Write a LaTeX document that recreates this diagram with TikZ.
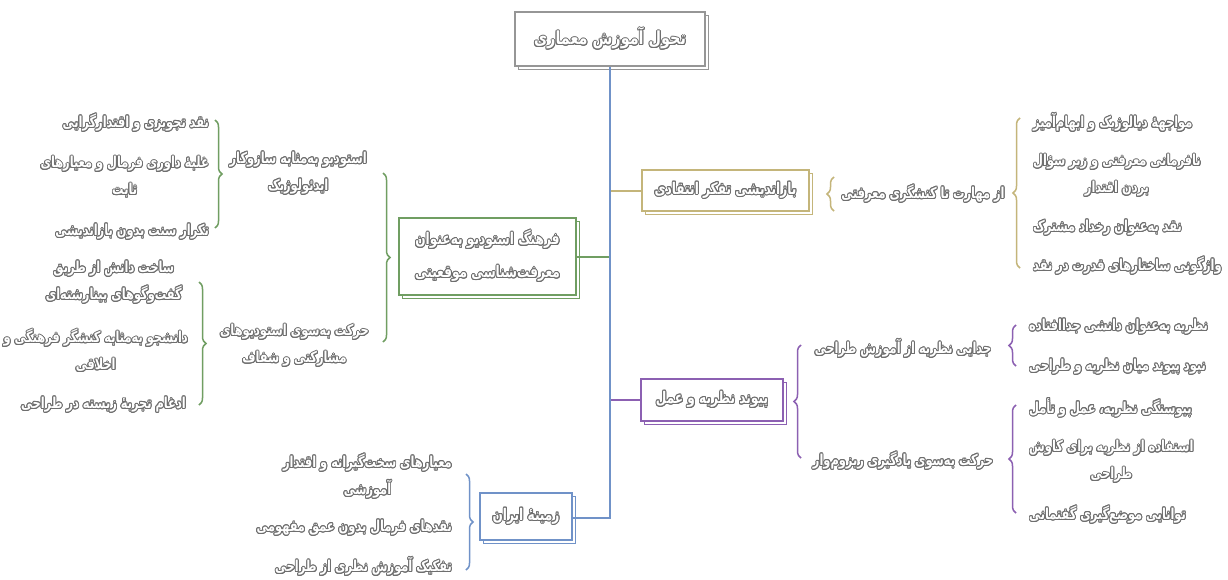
\documentclass[tikz,border=0pt]{standalone}
\usepackage{fontspec}
\usepackage{contour}
\usetikzlibrary{decorations.pathreplacing,shadows}
\TeXXeTstate=1
\newfontfamily\fa[Script=Arabic,FakeStretch=0.76]{DejaVu Sans}
\newfontfamily\faroot[Script=Arabic,FakeStretch=0.8]{DejaVu Sans}
\definecolor{tblue}{RGB}{112,146,200}
\definecolor{tkhaki}{RGB}{196,181,122}
\definecolor{tpurple}{RGB}{140,96,178}
\definecolor{tgreen}{RGB}{112,158,98}
\definecolor{tgray}{RGB}{150,150,150}
\definecolor{txt}{RGB}{110,110,110}
\contourlength{0.95pt}
\newcommand\fx[1]{\contour{txt}{\beginR #1\endR}}
\tikzset{
  lbl/.style={font=\fa\bfseries\fontsize{15}{27}\selectfont, text=white, inner sep=1pt, align=center},
  boxn/.style={lbl, font=\fa\bfseries\fontsize{16}{33}\selectfont, draw=#1, line width=1.6pt, fill=white,
     copy shadow={shadow xshift=3.5pt, shadow yshift=-3.5pt}},
  brc/.style={draw=#1, line width=1.5pt, decorate, decoration={brace, amplitude=7pt}},
  link/.style={draw=#1, line width=1.5pt},
}
\begin{document}
\begin{tikzpicture}[x=1pt,y=-1pt]
\useasboundingbox[fill=white] (0,0) rectangle (1228,579);

% boxes
\node[boxn=tgray, minimum width=190pt, minimum height=54pt, font=\faroot\bfseries\fontsize{18}{20}\selectfont] (root) at (610,39) {\fx{تحول آموزش معماری}};
\node[boxn=tkhaki, minimum width=167pt, minimum height=41pt] (b1) at (725.5,190.5) {\fx{بازاندیشی تفکر انتقادی}};
\node[boxn=tpurple, minimum width=142pt, minimum height=42pt] (b2) at (712,400) {\fx{پیوند نظریه و عمل}};
\node[boxn=tgreen, minimum width=177pt, minimum height=77pt] (b3) at (487.5,256.5) {\fx{فرهنگ استودیو به‌عنوان}\\\fx{معرفت‌شناسی موقعیتی}};
\node[boxn=tblue, minimum width=92pt, minimum height=47pt] (b4) at (526,516.5) {\fx{زمینهٔ ایران}};

% trunk and branches
\coordinate (t1) at (610,191);
\coordinate (t2) at (610,400);
\coordinate (t3) at (610,257);
\coordinate (t4) at (610,518);
\draw[link=tkhaki] (t1) -- (t1 -| b1.west);
\draw[link=tpurple] (t2) -- (t2 -| b2.west);
\draw[link=tgreen] (t3) -- (t3 -| b3.east);
\draw[link=tblue] (root.south) -- (t4) -- (t4 -| b4.east);

% braces
\draw[brc=tkhaki] (834,211) -- (834,177);
\draw[brc=tkhaki] (1020,268) -- (1020,118);
\draw[brc=tpurple] (801,458) -- (801,345);
\draw[brc=tpurple] (1016,366) -- (1016,325);
\draw[brc=tpurple] (1016,513) -- (1016,405);
\draw[brc=tgreen] (383,173) -- (383,342);
\draw[brc=tgreen] (215,120) -- (215,228);
\draw[brc=tgreen] (199,282) -- (199,405);
\draw[brc=tblue] (466,474) -- (466,570);

% khaki branch
\node[lbl] (k1) at (923,194) {\fx{از مهارت تا کنشگری معرفتی}};
\node[lbl, anchor=west] (k11) at (1032,123) {\fx{مواجههٔ دیالوژیک و ابهام‌آمیز}};
\node[lbl, anchor=west] (k12) at (1032,176) {\fx{نافرمانی معرفتی و زیر سؤال}\\\fx{بردن اقتدار}};
\node[lbl, anchor=west] (k13) at (1032,228) {\fx{نقد به‌عنوان رخداد مشترک}};
\node[lbl, anchor=west] (k14) at (1032,266) {\fx{واژگونی ساختارهای قدرت در نقد}};

% purple branch
\node[lbl] (p1) at (903,349) {\fx{جدایی نظریه از آموزش طراحی}};
\node[lbl] (p2) at (903,461) {\fx{حرکت به‌سوی یادگیری ریزوم‌وار}};
\node[lbl, anchor=west] (p11) at (1028,327) {\fx{نظریه به‌عنوان دانشی جداافتاده}};
\node[lbl, anchor=west] (p12) at (1028,367) {\fx{نبود پیوند میان نظریه و طراحی}};
\node[lbl, anchor=west] (p21) at (1028,408) {\fx{پیوستگی نظریه، عمل و تأمل}};
\node[lbl, anchor=west] (p22) at (1028,462) {\fx{استفاده از نظریه برای کاوش}\\\fx{طراحی}};
\node[lbl, anchor=west] (p23) at (1028,515) {\fx{توانایی موضع‌گیری گفتمانی}};

% green branch
\node[lbl, anchor=east] (g1) at (368,173.5) {\fx{استودیو به‌مثابه سازوکار}\\\fx{ایدئولوژیک}};
\node[lbl, anchor=east] (g2) at (370,346) {\fx{حرکت به‌سوی استودیوهای}\\\fx{مشارکتی و شفاف}};
\node[lbl, anchor=east] (g11) at (210,123) {\fx{نقد تجویزی و اقتدارگرایی}};
\node[lbl, anchor=east] (g12) at (210,177.5) {\fx{غلبهٔ داوری فرمال و معیارهای}\\\fx{ثابت}};
\node[lbl, anchor=east] (g13) at (210,232) {\fx{تکرار سنت بدون بازاندیشی}};
\node[lbl, anchor=east] (g21) at (183,282.5) {\fx{ساخت دانش از طریق}\\\fx{گفت‌وگوهای بینارشته‌ای}};
\node[lbl, anchor=east] (g22) at (189,351) {\fx{دانشجو به‌مثابه کنشگر فرهنگی و}\\\fx{اخلاقی}};
\node[lbl, anchor=east] (g23) at (187,405) {\fx{ادغام تجربهٔ زیسته در طراحی}};

% blue branch
\node[lbl, anchor=east] (i1) at (453,476.5) {\fx{معیارهای سخت‌گیرانه و اقتدار}\\\fx{آموزشی}};
\node[lbl, anchor=east] (i2) at (453,528) {\fx{نقدهای فرمال بدون عمق مفهومی}};
\node[lbl, anchor=east] (i3) at (453,567) {\fx{تفکیک آموزش نظری از طراحی}};
\end{tikzpicture}
\end{document}
